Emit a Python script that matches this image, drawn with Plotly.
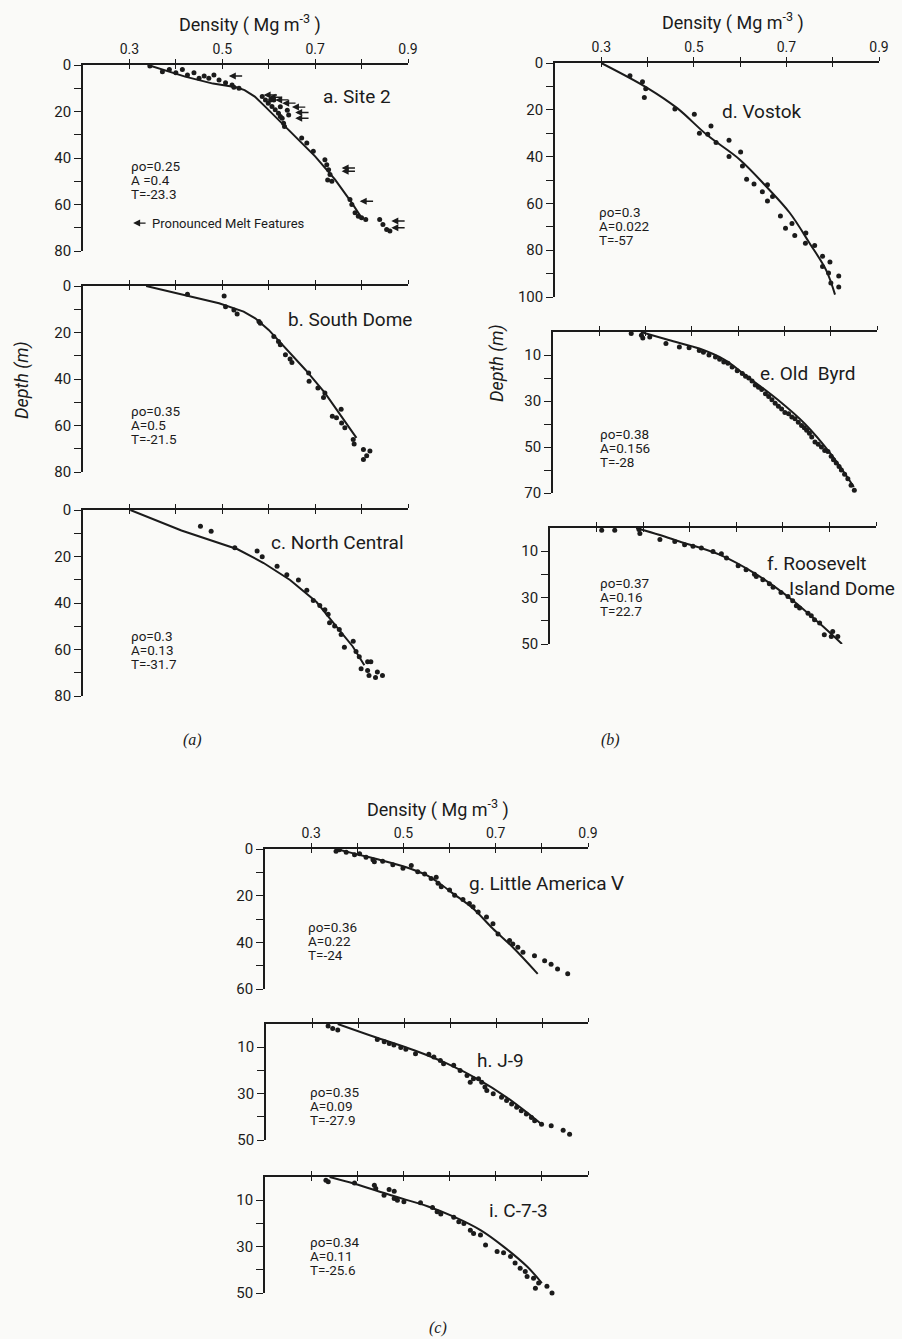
import plotly.graph_objects as go

W, H = 902, 1339
FONT = "Roboto, Liberation Sans, sans-serif"
INK = "#1b1b1b"
BG = "#fafaf8"

# ---------------- data ----------------
rho_ticks = [0.3, 0.4, 0.5, 0.6, 0.7, 0.8, 0.9]
rho_ticktext = ["0.3", "", "0.5", "", "0.7", "", "0.9"]

# a. Site 2
a_curve_rho = [0.34, 0.37, 0.42, 0.48, 0.53, 0.548, 0.57, 0.593, 0.621, 0.657, 0.70, 0.743, 0.779, 0.80]
a_curve_z = [0, 2, 5, 8, 9.6, 10.8, 13.6, 18, 23.6, 30.7, 39.3, 49.3, 59.3, 65.7]
a_pts_rho = [0.344, 0.371, 0.386, 0.40, 0.414, 0.425, 0.439, 0.45, 0.461, 0.471,
             0.482, 0.493, 0.507, 0.521, 0.525, 0.536, 0.586, 0.593, 0.599, 0.604,
             0.607, 0.614, 0.621, 0.625, 0.629, 0.632, 0.634, 0.611, 0.625, 0.64,
             0.643, 0.671, 0.682, 0.696, 0.721, 0.725, 0.729, 0.732, 0.736, 0.727,
             0.775, 0.779, 0.786, 0.793, 0.80, 0.809, 0.839, 0.846, 0.854, 0.861]
a_pts_z = [0.4, 2.9, 1.9, 3.3, 1.9, 4.3, 3.3, 5.7, 4.7, 5.7,
           4.3, 6.4, 7.6, 8.6, 9.6, 10, 13.6, 15, 16.4, 15,
           17.9, 19.3, 20.7, 22.1, 22.9, 25, 26.4, 15.0, 18.0, 19.5,
           21.5, 31.4, 33.6, 37.1, 40.7, 42.9, 45, 47.1, 50, 49.5,
           57.9, 60, 63.6, 65, 65.7, 66.4, 66.4, 68.6, 70.7, 71.4]
melt_rho = [0.514, 0.589, 0.60, 0.614, 0.629, 0.65, 0.657, 0.657, 0.757, 0.757, 0.796, 0.864, 0.864]
melt_z = [4.7, 12.9, 13.9, 15.0, 16.4, 18.1, 20.4, 22.9, 44.3, 45.7, 58.6, 67.1, 70.0]

# b. South Dome
b_curve_rho = [0.336, 0.421, 0.493, 0.546, 0.571, 0.60, 0.636, 0.679, 0.721, 0.757, 0.789]
b_curve_z = [0, 3.9, 7.4, 11, 13.9, 18.9, 26.7, 36, 46, 56, 65.3]
b_pts_rho = [0.425, 0.504, 0.507, 0.525, 0.532, 0.579, 0.582, 0.611, 0.621, 0.625,
             0.636, 0.646, 0.65, 0.686, 0.687, 0.706, 0.721, 0.718, 0.737, 0.746,
             0.757, 0.764, 0.756, 0.782, 0.784, 0.804, 0.818, 0.811, 0.804]
b_pts_z = [3.6, 4.3, 8.9, 10.3, 12, 15.3, 16, 21.7, 23.9, 25.3,
           29.6, 31.4, 32.9, 37.4, 41, 43.9, 46, 48, 56, 56.7,
           58.9, 61, 53, 66, 68, 70.3, 71, 73, 74.6]

# c. North Central
c_curve_rho = [0.302, 0.412, 0.533, 0.589, 0.646, 0.703, 0.745, 0.781, 0.806]
c_curve_z = [0, 8.8, 16.9, 22.8, 30.1, 39.6, 49.9, 58.7, 66.8]
c_pts_rho = [0.453, 0.476, 0.527, 0.575, 0.586, 0.618, 0.639, 0.664, 0.682, 0.696,
             0.71, 0.721, 0.728, 0.731, 0.742, 0.752, 0.756, 0.763, 0.782, 0.788,
             0.795, 0.799, 0.813, 0.82, 0.813, 0.816, 0.83, 0.834, 0.845]
c_pts_z = [7, 9.1, 16.2, 17.6, 20.1, 24.2, 27.9, 30.1, 34.5, 38.9,
           41.1, 42.9, 44.8, 48.5, 49.9, 51.4, 53.6, 59, 56.5, 60.9,
           63.1, 68.3, 65.3, 65.3, 69, 71.2, 72, 69.7, 71.2]

# d. Vostok
d_curve_rho = [0.30, 0.40, 0.464, 0.528, 0.60, 0.657, 0.707, 0.75, 0.786, 0.805]
d_curve_z = [0, 10.7, 19.3, 30.7, 41.4, 52.9, 64, 77, 88.6, 99]
d_pts_rho = [0.362, 0.389, 0.396, 0.393, 0.459, 0.501, 0.537, 0.512, 0.53, 0.548,
             0.576, 0.576, 0.601, 0.605, 0.614, 0.63, 0.659, 0.648, 0.659, 0.67,
             0.687, 0.698, 0.712, 0.718, 0.742, 0.741, 0.761, 0.778, 0.794, 0.778,
             0.791, 0.796, 0.813, 0.813]
d_pts_z = [5.4, 8, 11, 14.7, 19.7, 21.9, 26.9, 30, 30.4, 34,
           33, 40, 38, 44, 49.7, 51.7, 52, 55, 59, 57,
           65.4, 70.6, 68.6, 73.7, 72.6, 77, 78, 82.6, 85, 87,
           89.7, 94, 91, 95.7]

# e. Old Byrd
e_curve_rho = [0.39, 0.45, 0.516, 0.57, 0.616, 0.687, 0.744, 0.80, 0.85]
e_curve_z = [0, 3.5, 7.2, 12, 18.8, 29.7, 39.9, 53, 67.4]
e_pts_rho = [0.369, 0.391, 0.394, 0.409, 0.444, 0.473, 0.494, 0.516, 0.525, 0.537,
             0.551, 0.56, 0.569, 0.578, 0.587, 0.598, 0.609, 0.616, 0.623, 0.63,
             0.637, 0.644, 0.651, 0.659, 0.666, 0.673, 0.68, 0.687, 0.694, 0.701,
             0.709, 0.716, 0.723, 0.73, 0.737, 0.743, 0.748, 0.754, 0.759, 0.766,
             0.773, 0.78, 0.787, 0.794, 0.801, 0.806, 0.812, 0.818, 0.823, 0.83,
             0.837, 0.844, 0.851]
e_pts_z = [0.7, 1.4, 2.6, 2.2, 5, 6.5, 6.8, 8, 8.8, 10,
           10.9, 11.8, 13, 13.6, 15.2, 16.8, 18, 19.2, 20, 21.3,
           23, 24, 25, 26.8, 28, 29.5, 31, 32.3, 33.5, 35,
           35.5, 37, 37.7, 39.2, 40.6, 41.6, 42.7, 44, 45.6, 47.8,
           48.8, 50, 51.5, 52, 54, 55.5, 57, 58.5, 60, 61.8,
           63.8, 66.6, 68.8]

# f. Roosevelt Island Dome
f_curve_rho = [0.385, 0.434, 0.478, 0.564, 0.643, 0.72, 0.778, 0.827]
f_curve_z = [0, 2.9, 5.8, 11.5, 20, 31, 41, 50]
f_pts_rho = [0.311, 0.339, 0.391, 0.393, 0.436, 0.468, 0.489, 0.507, 0.525, 0.55,
             0.568, 0.579, 0.604, 0.621, 0.639, 0.643, 0.657, 0.671, 0.679, 0.696,
             0.711, 0.721, 0.729, 0.736, 0.754, 0.761, 0.768, 0.779, 0.789, 0.804,
             0.807, 0.818, 0.829]
f_pts_z = [1, 1, 0.7, 2.4, 5, 5.8, 7.2, 7.9, 8.6, 10.1,
           11.1, 12.9, 16.3, 18, 19.9, 20.9, 22.3, 24, 25.5, 27.8,
           29.5, 31.4, 33.5, 34.5, 36.7, 37.8, 39.6, 41, 46, 46.8,
           44.6, 46.8, 50.3]

# g. Little America V
g_curve_rho = [0.354, 0.398, 0.448, 0.506, 0.549, 0.578, 0.607, 0.651, 0.694, 0.737, 0.791]
g_curve_z = [0, 2.2, 4.6, 7.8, 11.1, 14.7, 19, 25.5, 34.2, 42.1, 53.5]
g_pts_rho = [0.354, 0.361, 0.376, 0.394, 0.405, 0.419, 0.434, 0.437, 0.455, 0.477,
             0.499, 0.517, 0.531, 0.546, 0.56, 0.571, 0.575, 0.582, 0.60, 0.611,
             0.629, 0.643, 0.651, 0.662, 0.68, 0.694, 0.705, 0.73, 0.737, 0.748,
             0.759, 0.784, 0.806, 0.82, 0.834, 0.856]
g_pts_z = [1, 0.3, 1.4, 2.5, 2, 3.5, 4.6, 5.5, 5.3, 6.8,
           8.2, 7.1, 9.7, 10.7, 12.6, 12.1, 14.7, 16.2, 17.6, 19.8,
           21.6, 23.4, 24.8, 27, 29.1, 32, 36.4, 39.2, 40.7, 42.1,
           44.3, 45.7, 47.9, 49.4, 51.4, 53.5]

# h. J-9
h_curve_rho = [0.356, 0.435, 0.522, 0.594, 0.665, 0.723, 0.781, 0.799]
h_curve_z = [0, 5.5, 11.3, 17.1, 24.3, 31.6, 40.3, 43.2]
h_pts_rho = [0.335, 0.345, 0.356, 0.442, 0.457, 0.468, 0.478, 0.493, 0.504, 0.525,
             0.554, 0.565, 0.579, 0.586, 0.608, 0.622, 0.637, 0.644, 0.651, 0.662,
             0.669, 0.676, 0.68, 0.694, 0.712, 0.723, 0.734, 0.745, 0.755, 0.766,
             0.777, 0.784, 0.799, 0.82, 0.846, 0.86, 0.875]
h_pts_z = [0.9, 1.9, 2.6, 6.7, 7.7, 8.4, 9.1, 10.1, 10.9, 12.8,
           13, 14.2, 15.7, 17.1, 17.8, 20, 22.2, 25.1, 23.6, 23.6,
           25.1, 27.2, 28.7, 30.1, 31.6, 33, 34.5, 35.9, 37.4, 38.8,
           40.3, 41.7, 43.2, 43.9, 45.8, 47.5, 50.5]

# i. C-7-3
i_curve_rho = [0.34, 0.394, 0.473, 0.552, 0.609, 0.667, 0.717, 0.768, 0.80]
i_curve_z = [0, 2.9, 7.9, 12.6, 17.1, 22.9, 30, 38.6, 45.7]
i_pts_rho = [0.332, 0.337, 0.394, 0.437, 0.44, 0.458, 0.469, 0.48, 0.48, 0.487,
             0.501, 0.537, 0.563, 0.573, 0.581, 0.609, 0.62, 0.631, 0.645, 0.652,
             0.667, 0.678, 0.703, 0.717, 0.732, 0.742, 0.753, 0.764, 0.768, 0.782,
             0.786, 0.793, 0.811, 0.822]
i_pts_z = [1.4, 2.1, 2.6, 3.6, 5, 7.9, 5.4, 6.1, 9.3, 10,
           10.7, 11.1, 13.1, 15, 16, 17.4, 19.3, 20, 22.9, 24.3,
           25, 29.3, 32.1, 32.6, 34.3, 37.1, 39.3, 40.7, 42.9, 43.6,
           47.9, 45.7, 47.1, 50]

titles = ["a. Site 2", "b. South Dome", "c. North Central", "d. Vostok",
          "e. Old\u00a0\u00a0Byrd", "f. Roosevelt", "g. Little America \u2164",
          "h. J-9", "i. C-7-3"]
params = [
    ["\u03c1o=0.25", "A =0.4", "T=-23.3"],
    ["\u03c1o=0.35", "A=0.5", "T=-21.5"],
    ["\u03c1o=0.3", "A=0.13", "T=-31.7"],
    ["\u03c1o=0.3", "A=0.022", "T=-57"],
    ["\u03c1o=0.38", "A=0.156", "T=-28"],
    ["\u03c1o=0.37", "A=0.16", "T=22.7"],
    ["\u03c1o=0.36", "A=0.22", "T=-24"],
    ["\u03c1o=0.35", "A=0.09", "T=-27.9"],
    ["\u03c1o=0.34", "A=0.11", "T=-25.6"],
]

# ---------------- panel configuration ----------------
panels = [
    dict(c=(a_curve_rho, a_curve_z), p=(a_pts_rho, a_pts_z), box=(83, 408, 65, 251), zmax=80,
         zlab=[0, 20, 40, 60, 80], xlab=True, tpos=(0.79, 13.6, "center"), ppos=(0.30, 43.6), shape="linear"),
    dict(c=(b_curve_rho, b_curve_z), p=(b_pts_rho, b_pts_z), box=(83, 408, 286, 472), zmax=80,
         zlab=[0, 20, 40, 60, 80], xlab=False, tpos=(0.775, 14.3, "center"), ppos=(0.30, 53.9), shape="linear"),
    dict(c=(c_curve_rho, c_curve_z), p=(c_pts_rho, c_pts_z), box=(83, 408, 510, 696), zmax=80,
         zlab=[0, 20, 40, 60, 80], xlab=False, tpos=(0.749, 14.0, "center"), ppos=(0.30, 54.3), shape="linear"),
    dict(c=(d_curve_rho, d_curve_z), p=(d_pts_rho, d_pts_z), box=(555, 879, 63, 297), zmax=100,
         zlab=[0, 20, 40, 60, 80, 100], xlab=True, tpos=(0.647, 20.7, "center"), ppos=(0.291, 63.6), shape="spline"),
    dict(c=(e_curve_rho, e_curve_z), p=(e_pts_rho, e_pts_z), box=(553, 877, 332, 493), zmax=70,
         zlab=[10, 30, 50, 70], xlab=False, tpos=(0.75, 18.1, "center"), ppos=(0.298, 44.2), shape="spline"),
    dict(c=(f_curve_rho, f_curve_z), p=(f_pts_rho, f_pts_z), box=(550, 876, 528, 644), zmax=50,
         zlab=[10, 30, 50], xlab=False, tpos=(0.662, 15.1, "left"), ppos=(0.303, 23.7), shape="spline"),
    dict(c=(g_curve_rho, g_curve_z), p=(g_pts_rho, g_pts_z), box=(265, 588, 849, 989), zmax=60,
         zlab=[0, 20, 40, 60], xlab=True, tpos=(0.81, 14.7, "center"), ppos=(0.289, 33.5), shape="spline"),
    dict(c=(h_curve_rho, h_curve_z), p=(h_pts_rho, h_pts_z), box=(266, 588, 1024, 1140), zmax=50,
         zlab=[10, 30, 50], xlab=False, tpos=(0.709, 15.7, "center"), ppos=(0.291, 29.4), shape="spline"),
    dict(c=(i_curve_rho, i_curve_z), p=(i_pts_rho, i_pts_z), box=(265, 588, 1177, 1293), zmax=50,
         zlab=[10, 30, 50], xlab=False, tpos=(0.75, 14.3, "center"), ppos=(0.293, 27.9), shape="spline"),
]

fig = go.Figure()
layout = dict(width=W, height=H, margin=dict(l=0, r=0, t=0, b=0, pad=0, autoexpand=False),
              paper_bgcolor=BG, plot_bgcolor="rgba(0,0,0,0)", showlegend=False,
              font=dict(family=FONT, color=INK))
ann = []
N = len(panels)

for k, p in enumerate(panels, start=1):
    xn = "x" if k == 1 else f"x{k}"
    yn = "y" if k == 1 else f"y{k}"
    xkey = "xaxis" if k == 1 else f"xaxis{k}"
    ykey = "yaxis" if k == 1 else f"yaxis{k}"
    xo, yo = f"x{k + N}", f"y{k + N}"
    x0, x1, y0, y1 = p["box"]
    xdom = [x0 / W, x1 / W]
    ydom = [1 - y1 / H, 1 - y0 / H]
    zmax = p["zmax"]
    start = 0 if 0 in p["zlab"] else 10
    zvals = list(range(start, zmax + 1, 10))
    ztext = [str(v) if v in p["zlab"] else "" for v in zvals]

    common = dict(showgrid=False, zeroline=False, automargin=False, fixedrange=True,
                  tickcolor=INK, tickwidth=1.4)
    layout[xkey] = dict(domain=xdom, range=[0.2, 0.9], anchor=yn, side="top",
                        showline=True, linecolor=INK, linewidth=1.6,
                        ticks="outside", ticklen=4,
                        tickvals=rho_ticks, ticktext=rho_ticktext,
                        showticklabels=p["xlab"], tickfont=dict(size=14, family=FONT, color=INK),
                        **common)
    # second x axis on the same line: downward half of the crossing tick marks
    layout[f"xaxis{k + N}"] = dict(overlaying=xn, range=[0.2, 0.9], anchor=yn, side="top",
                                   showline=False, ticks="inside", ticklen=4,
                                   tickvals=rho_ticks, showticklabels=False, **common)
    layout[ykey] = dict(domain=ydom, range=[zmax, 0], anchor=xn,
                        showline=True, linecolor=INK, linewidth=1.6,
                        ticks="outside", ticklen=7,
                        tickvals=zvals, ticktext=ztext,
                        tickfont=dict(size=15, family=FONT, color=INK), **common)
    # second y axis: the inward foot at the bottom of the depth axis
    layout[f"yaxis{k + N}"] = dict(overlaying=yn, range=[zmax, 0], anchor=xn, side="left",
                                   showline=False, ticks="inside", ticklen=7,
                                   tickvals=[zmax], showticklabels=False, **common)

    cx, cz = p["c"]
    fig.add_trace(go.Scatter(x=cx, y=cz, mode="lines", xaxis=xn, yaxis=yn,
                             line=dict(color=INK, width=2, shape=p["shape"]),
                             cliponaxis=False, hoverinfo="skip"))
    px_, pz_ = p["p"]
    fig.add_trace(go.Scatter(x=px_, y=pz_, mode="markers", xaxis=xn, yaxis=yn,
                             marker=dict(color=INK, size=5), cliponaxis=False))
    fig.add_trace(go.Scatter(x=[None], y=[None], mode="markers", xaxis=xo, yaxis=yn,
                             hoverinfo="skip"))
    fig.add_trace(go.Scatter(x=[None], y=[None], mode="markers", xaxis=xn, yaxis=yo,
                             hoverinfo="skip"))

    tx, ty, tal = p["tpos"]
    ann.append(dict(x=tx, y=ty, xref=xn, yref=yn, text=titles[k - 1], showarrow=False,
                    xanchor=tal, yanchor="middle", font=dict(size=19, family=FONT, color=INK)))
    px0, pz0 = p["ppos"]
    for j, line in enumerate(params[k - 1]):
        ann.append(dict(x=px0, y=pz0, xref=xn, yref=yn, text=line, showarrow=False,
                        xanchor="left", yanchor="middle", yshift=-14 * j,
                        font=dict(size=13.5, family=FONT, color=INK)))

# second line of panel f label (extends past the axis end)
ann.append(dict(x=0.9, y=25.9, xref="x6", yref="y6", text="Island Dome", showarrow=False,
                xanchor="right", yanchor="middle", xshift=21,
                font=dict(size=19, family=FONT, color=INK)))

# melt feature arrows in panel a
for r, z in zip(melt_rho, melt_z):
    ann.append(dict(x=r, y=z, xref="x", yref="y", ax=r + 0.032, ay=z, axref="x", ayref="y",
                    text="", showarrow=True, arrowhead=2, arrowsize=1, arrowwidth=1.4,
                    arrowcolor=INK))
ann.append(dict(x=0.308, y=68, xref="x", yref="y", ax=0.338, ay=68, axref="x", ayref="y",
                text="", showarrow=True, arrowhead=2, arrowsize=1, arrowwidth=1.4, arrowcolor=INK))
ann.append(dict(x=0.345, y=68, xref="x", yref="y", text="Pronounced Melt Features",
                showarrow=False, xanchor="left", yanchor="middle",
                font=dict(size=13, family=FONT, color=INK)))

# figure-level texts
def paper(px, py):
    return px / W, 1 - py / H

for (px, py) in [(250, 23), (733, 21), (438, 808)]:
    xx, yy = paper(px, py)
    ann.append(dict(x=xx, y=yy, xref="paper", yref="paper", showarrow=False,
                    text="Density ( Mg m<sup>-3</sup> )", xanchor="center", yanchor="middle",
                    font=dict(size=18, family=FONT, color=INK)))
for (px, py) in [(22, 380), (497, 363)]:
    xx, yy = paper(px, py)
    ann.append(dict(x=xx, y=yy, xref="paper", yref="paper", showarrow=False, textangle=-90,
                    text="<i>Depth (m)</i>", xanchor="center", yanchor="middle",
                    font=dict(size=18, family=FONT, color=INK)))
for lab, (px, py) in zip(["(a)", "(b)", "(c)"], [(192, 740), (610, 740), (438, 1328)]):
    xx, yy = paper(px, py)
    ann.append(dict(x=xx, y=yy, xref="paper", yref="paper", showarrow=False,
                    text=f"<i>{lab}</i>", xanchor="center", yanchor="middle",
                    font=dict(size=16, family="Liberation Serif, DejaVu Serif, serif", color=INK)))

layout["annotations"] = ann
fig.update_layout(**layout)
fig.write_html("out.html", config={"displayModeBar": False},
               post_script="document.body.style.margin='0px';")
